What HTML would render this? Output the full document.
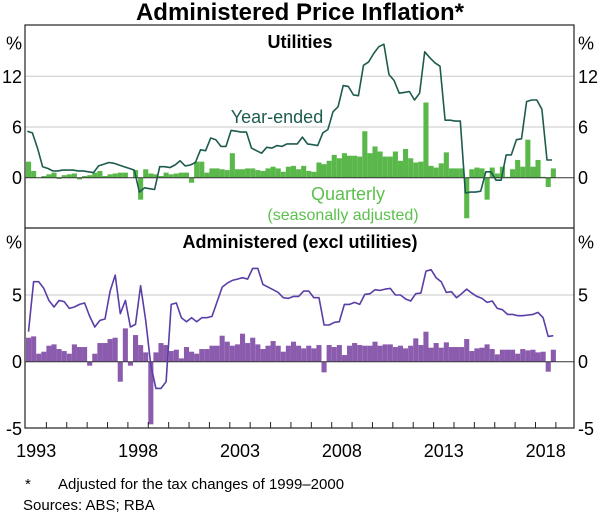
<!DOCTYPE html>
<html><head><meta charset="utf-8"><style>
body{margin:0;background:#fff;width:600px;height:515px;overflow:hidden;font-family:"Liberation Sans",Arial,sans-serif}
svg text{font-family:"Liberation Sans",Arial,sans-serif}
</style></head><body>
<svg id="chart" width="600" height="515" viewBox="0 0 600 515" xmlns="http://www.w3.org/2000/svg">
<text x="300" y="20" text-anchor="middle" font-size="24" font-weight="bold">Administered Price Inflation*</text>
<g id="grid"></g><g id="bars"></g><g id="lines"></g><g id="axes"></g>
<text x="300" y="48" text-anchor="middle" font-size="18" font-weight="600">Utilities</text>
<text x="300" y="248" text-anchor="middle" font-size="18" font-weight="600">Administered (excl utilities)</text>
<text x="277" y="123" text-anchor="middle" font-size="18" fill="#1e5b4f">Year-ended</text>
<text x="348" y="200" text-anchor="middle" font-size="18" fill="#5cc04d">Quarterly</text>
<text x="343" y="220" text-anchor="middle" font-size="16" fill="#5cc04d">(seasonally adjusted)</text>
<text x="25" y="489" font-size="15">*</text>
<text x="58" y="489" font-size="15">Adjusted for the tax changes of 1999–2000</text>
<text x="23" y="510" font-size="15">Sources: ABS; RBA</text>
</svg>
<script>
const years = [1993,1998,2003,2008,2013,2018];
const utilTicks = [-6,0,6,12];
const adminTicks = [-5,0,5];
const utilYear = [5.5,5.3,3.5,1.3, 1.1,0.8,0.8,0.9, 0.9,0.9,0.8,0.8, 0.7,0.6,1.4,1.6, 1.8,1.7,1.5,1.3, 1.1,0.9,-1.7,-1.2, -1.3,-1.4,1.3,1.3, 1.2,1.5,2.0,1.4, 1.5,1.8,3.3,3.2, 4.7,4.5,3.7,3.7, 5.6,5.5,5.4,5.4, 3.5,3.2,2.9,3.6, 3.5,3.8,3.7,4.0, 4.0,4.0,4.8,4.0, 3.9,3.8,5.3,5.7, 7.8,8.4,10.9,10.8, 9.8,9.7,13.3,13.7, 14.7,15.5,15.8,12.2, 11.5,10.0,10.1,10.2, 9.2,10.0,14.9,14.2, 13.6,13.2,6.8,6.8, 6.7,6.7,-1.8,-1.7, -1.7,-1.6,0.7,0.7, -0.3,-0.3,2.7,2.7, 4.5,4.6,9.0,9.2, 9.2,8.1,2.1,2.1];
const utilQtr = [1.9,0.8,0,0.2,0.4,0.6,-0.15,0.3,0.4,0.5,-0.2,0.2,0.3,0.6,0.8,0.2,0.4,0.5,0.6,0.6,0,0.9,-2.6,1.0,0.5,0.4,0.2,0.6,0.4,0.5,0.6,0.6,-0.6,1.9,1.9,0.6,1.1,1.1,1.0,0.9,2.9,1.0,1.0,1.1,1.1,0.9,0.8,1.1,1.3,1.1,0.7,1.3,1.4,1.0,1.4,0.8,0.7,1.8,1.6,2.0,2.7,2.3,2.9,2.6,2.6,2.5,5.5,2.9,3.7,3.1,2.5,2.5,3.1,2.0,3.4,2.3,1.8,1.9,8.9,1.4,1.2,1.7,3.0,1.1,1.1,1.1,-4.8,1.0,1.2,1.1,-2.6,1.2,0.5,1.3,0.1,1.0,2.1,1.3,4.5,1.3,2.1,0.1,-1.1,1.1];
const adminYear = [2.25,6.0,6.0,5.5,4.6,4.1,4.6,4.5,4.0,4.1,4.3,4.4,3.4,2.6,3.1,3.2,5.3,6.5,3.6,4.6,2.6,2.8,5.7,3.1,-0.25,-2.0,-2.0,-1.5,4.3,4.4,3.3,3.0,3.3,3.0,3.3,3.3,3.4,4.5,5.6,5.9,6.1,6.2,6.3,6.2,7.0,7.0,5.8,5.6,5.4,5.2,4.8,4.75,4.9,4.9,5.3,5.3,4.8,4.8,2.75,2.75,2.95,3.0,4.3,4.3,4.45,4.3,5.05,5.1,5.4,5.35,5.45,5.5,5.0,5.0,4.7,4.55,5.1,5.15,6.8,6.9,6.3,6.0,5.2,5.25,4.8,5.1,5.45,5.15,4.9,4.75,4.45,4.55,4.0,3.9,3.55,3.55,3.45,3.45,3.5,3.55,3.7,3.3,1.9,1.95];
const adminQtr = [1.8,1.9,0.6,0.75,1.2,1.3,0.95,0.8,0.6,1.3,1.1,1.1,-0.3,0.6,1.4,1.4,1.7,1.8,-1.5,2.5,-0.3,2.0,1.25,0.7,-4.7,0.7,1.4,1.25,0.8,0.9,0.25,1.1,0.75,0.6,0.95,0.95,1.2,1.2,1.95,1.5,1.2,1.3,2.1,1.4,1.8,1.3,0.95,1.2,1.55,1.2,0.75,1.2,1.5,1.2,1.0,1.2,1.0,1.25,-0.8,1.25,1.1,1.25,0.5,1.2,1.4,1.25,1.2,1.2,1.5,1.2,1.3,1.3,1.1,1.2,1.0,1.2,1.75,1.25,2.25,1.05,1.4,1.05,1.45,1.1,1.1,1.1,1.7,0.8,1.0,1.05,1.3,0.95,0.55,0.9,0.9,0.9,0.6,0.95,0.85,0.9,0.7,0.75,-0.75,0.9];

const NS='http://www.w3.org/2000/svg';
const L=25,R=574;
const x0=26, yrW=20.38;
function xq(i){return x0+(i+0.5)*yrW/4;}
function xqU(i){return x0+(i+0.25)*yrW/4;}
function xYear(y){return x0+(y-1993)*yrW;}
const top1=25,bot1=228,top2=228,bot2=428;
function yU(v){return 177.7-v*8.45;}
function yA(v){return 361.7-v*13.33;}
function mk(tag,attrs,parent){const e=document.createElementNS(NS,tag);for(const k in attrs)e.setAttribute(k,attrs[k]);document.getElementById(parent).appendChild(e);return e;}

utilTicks.forEach(v=>{ if(v<=0) return;
  const g=mk('line',{x1:L,x2:R,y1:yU(v),y2:yU(v),stroke:'#c8c8c8','stroke-width':1},'grid');
  
  
});
adminTicks.forEach(v=>{ if(v<=0) return;
  const g=mk('line',{x1:L,x2:R,y1:yA(v),y2:yA(v),stroke:'#c8c8c8','stroke-width':1},'grid');
  
  
});

const bw=yrW/4;
utilQtr.forEach((v,i)=>{
  const y=Math.min(yU(v),yU(0)),h=Math.abs(yU(v)-yU(0));
  const b=mk('rect',{x:x0+i*bw,y:y,width:bw,height:h,fill:'#5ab84b'},'bars');
  
  
});
adminQtr.forEach((v,i)=>{
  const y=Math.min(yA(v),yA(0)),h=Math.abs(yA(v)-yA(0));
  const b=mk('rect',{x:x0+i*bw,y:y,width:bw,height:h,fill:'#8b5cad'},'bars');
  
  
});

const z1=mk('line',{x1:L,x2:R,y1:yU(0),y2:yU(0),stroke:'#333','stroke-width':1},'bars');


const z2=mk('line',{x1:L,x2:R,y1:yA(0),y2:yA(0),stroke:'#333','stroke-width':1},'bars');



const l1=mk('polyline',{points:utilYear.map((v,i)=>xqU(i).toFixed(1)+','+yU(v).toFixed(1)).join(' '),fill:'none',stroke:'#1e5b4f','stroke-width':1.6,'stroke-linejoin':'round'},'lines');


const l2=mk('polyline',{points:adminYear.map((v,i)=>xq(i).toFixed(1)+','+yA(v).toFixed(1)).join(' '),fill:'none',stroke:'#5a3ea6','stroke-width':1.6,'stroke-linejoin':'round'},'lines');



const fr=mk('rect',{x:L,y:top1,width:R-L,height:bot2-top1,fill:'none',stroke:'#222','stroke-width':1.2},'axes');


const dv=mk('line',{x1:L,x2:R,y1:top2,y2:top2,stroke:'#222','stroke-width':1.2},'axes');



for(let y=1994;y<=2019;y++){
  const t=mk('line',{x1:xYear(y),x2:xYear(y),y1:bot2,y2:bot2-6,stroke:'#222','stroke-width':1},'axes');
  
  
}
years.forEach(y=>{
  const t=mk('text',{x:xYear(y)+yrW/2,y:457,'text-anchor':'middle','font-size':18},'axes');
  t.textContent=y;
  
  
});

function ylab(txt,y,side,name){
  const t=mk('text',{x:side==='l'?22:578,y:y+6.5,'text-anchor':side==='l'?'end':'start','font-size':18},'axes');
  t.textContent=txt;
  
  
}
['l','r'].forEach(s=>{
  ylab('%',top1+18,s,'utilities-y-unit');
  utilTicks.forEach(v=>{ if(v>-6) ylab(String(v),yU(v),s,'utilities-y-tick-label'); });
  ylab('%',top2+14,s,'admin-y-unit');
  adminTicks.forEach(v=>ylab(String(v),yA(v),s,'admin-y-tick-label'));
});
</script>
</body></html>
